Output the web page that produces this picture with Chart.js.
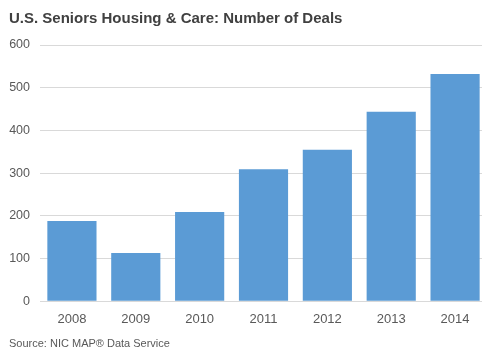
<!DOCTYPE html>
<html lang="en">
<head>
    <meta charset="UTF-8">
    <title>Number of Deals</title>
    <script src="https://cdn.jsdelivr.net/npm/chart.js"></script>
    <style>
        html, body {
            margin: 0;
            padding: 0;
            background: #ffffff;
            overflow: hidden;
        }
        #wrap {
            width: 488px;
            height: 352px;
        }
    </style>
</head>
<body>
    <div id="wrap">
        <canvas id="dealsChart" width="488" height="352"></canvas>
    </div>

    <script>
        // values
        const years = ["2008", "2009", "2010", "2011", "2012", "2013", "2014"];
        const deals = [188, 113, 209, 309, 355, 444, 532];
        const yTicks = [0, 100, 200, 300, 400, 500, 600];

        const font = "'Liberation Sans', Arial, sans-serif";

        new Chart(document.getElementById("dealsChart"), {
            type: "bar",
            data: {
                labels: years,
                datasets: [{
                    label: "Number of Deals",
                    data: deals,
                    backgroundColor: "#5b9bd5",
                    categoryPercentage: 1.0,
                    barPercentage: 0.77
                }]
            },
            options: {
                responsive: false,
                animation: false,
                layout: {
                    padding: { left: 9, right: 1, top: 0, bottom: 0 }
                },
                plugins: {
                    legend: { display: false },
                    tooltip: { enabled: false },
                    title: {
                        display: true,
                        text: "U.S. Seniors Housing & Care: Number of Deals",
                        align: "start",
                        color: "#404040",
                        font: { family: font, size: 15, weight: "bold" },
                        padding: { top: 10, bottom: 17 }
                    },
                    subtitle: {
                        display: true,
                        position: "bottom",
                        text: "Source: NIC MAP\u00ae Data Service",
                        align: "start",
                        color: "#595959",
                        font: { family: font, size: 11 },
                        padding: { top: 10.5, bottom: 1 }
                    }
                },
                scales: {
                    x: {
                        afterFit: scale => {
                            scale.height = 26;
                        },
                        grid: { display: false, drawTicks: false },
                        border: { display: false },
                        ticks: {
                            color: "#595959",
                            font: { family: font, size: 13 },
                            padding: 10
                        }
                    },
                    y: {
                        min: 0,
                        max: 600,
                        afterBuildTicks: scale => {
                            scale.ticks = yTicks.map(v => ({ value: v }));
                        },
                        afterFit: scale => {
                            scale.width = 31;
                        },
                        grid: {
                            color: "#d9d9d9",
                            drawTicks: false
                        },
                        border: { display: false },
                        ticks: {
                            color: "#595959",
                            font: { family: font, size: 12.5 },
                            padding: 10
                        }
                    }
                }
            }
        });
    </script>
</body>
</html>
